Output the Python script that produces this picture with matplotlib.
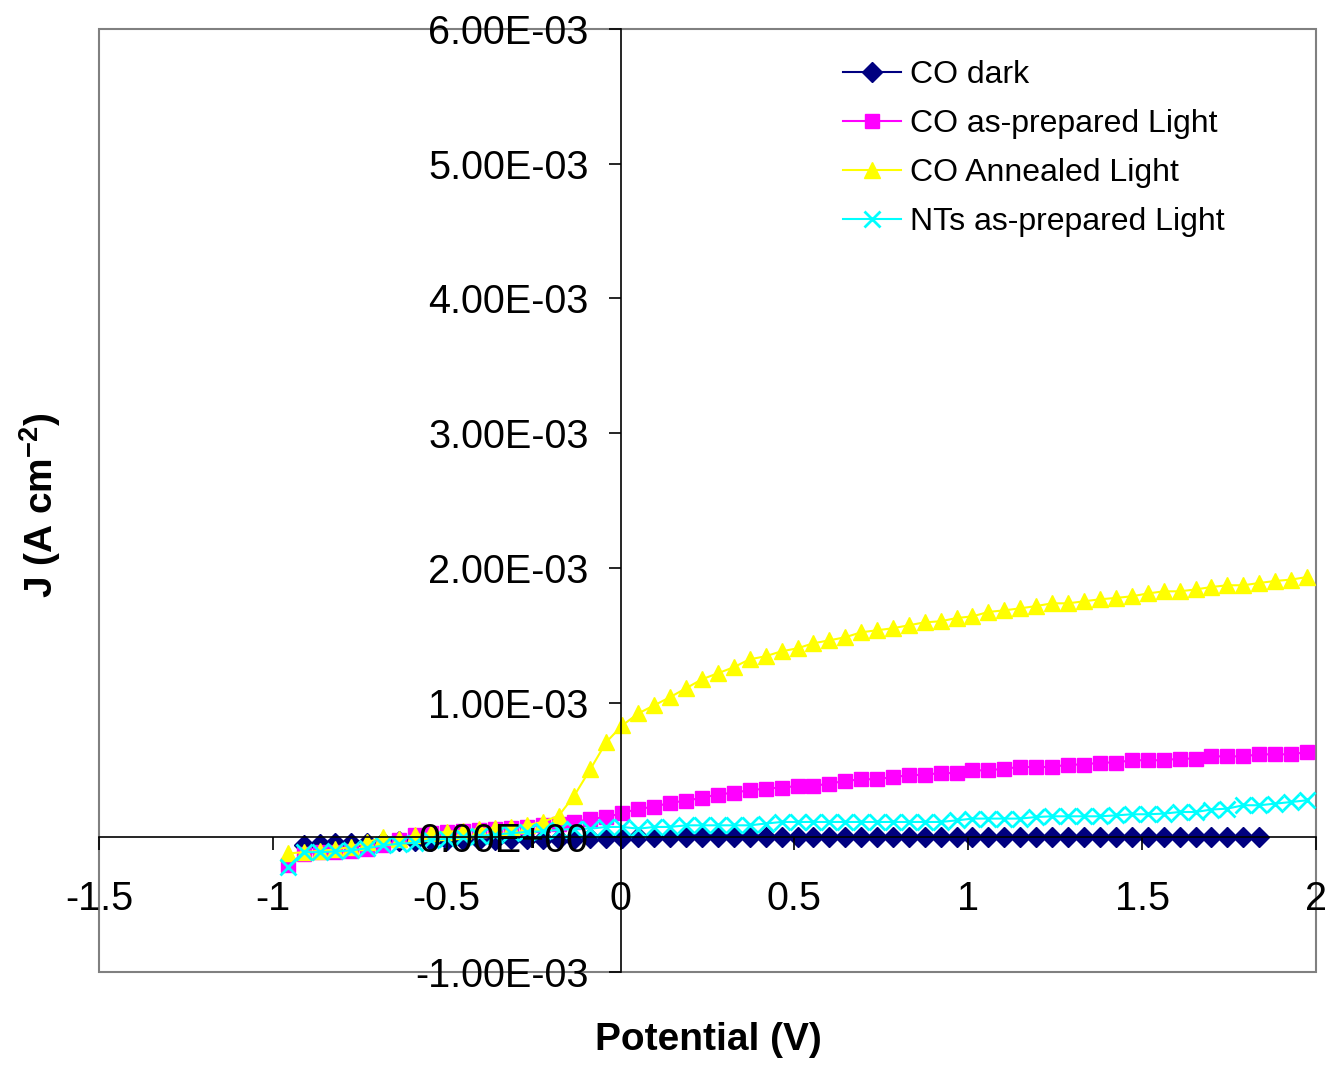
import matplotlib
matplotlib.use("Agg")
import matplotlib.pyplot as plt
from matplotlib.patches import Rectangle
from matplotlib.ticker import FuncFormatter, MultipleLocator

plt.rcParams['font.family'] = ['Liberation Sans', 'DejaVu Sans']
plt.rcParams['axes.unicode_minus'] = False
plt.rcParams['mathtext.fontset'] = 'custom'
plt.rcParams['mathtext.rm'] = 'Liberation Sans'
plt.rcParams['mathtext.bf'] = 'Liberation Sans:bold'

# potential (V)
pot = [-0.957, -0.911, -0.865, -0.820, -0.774, -0.728, -0.682, -0.636, -0.591, -0.545,
       -0.499, -0.453, -0.407, -0.362, -0.316, -0.270, -0.224, -0.178, -0.133, -0.087,
       -0.041, 0.005, 0.051, 0.097, 0.142, 0.188, 0.234, 0.280, 0.325, 0.371,
       0.417, 0.463, 0.509, 0.554, 0.600, 0.646, 0.692, 0.738, 0.783, 0.829,
       0.875, 0.921, 0.967, 1.012, 1.058, 1.104, 1.150, 1.196, 1.241, 1.287,
       1.333, 1.379, 1.425, 1.470, 1.516, 1.562, 1.608, 1.654, 1.699, 1.745,
       1.791, 1.837, 1.883, 1.928, 1.974]

# current density, in mA cm-2 (scaled to A cm-2 below)
co_dark = [-0.060, -0.047, -0.042, -0.042, -0.040, -0.035, -0.030, -0.030, -0.025,
           -0.020, -0.020, -0.020, -0.017, -0.015, -0.015, -0.012, -0.010, -0.010, -0.008,
           -0.006, -0.004, 0.000, 0.000, 0.001, 0.001, 0.001, 0.001, 0.001, 0.001,
           0.001, 0.001, 0.001, 0.001, 0.001, 0.001, 0.001, 0.001, 0.001, 0.001,
           0.001, 0.001, 0.001, 0.001, 0.002, 0.002, 0.002, 0.002, 0.002, 0.002,
           0.002, 0.002, 0.002, 0.002, 0.002, 0.002, 0.002, 0.002, 0.002, 0.002,
           0.002, 0.002]
co_prep = [-0.208, -0.121, -0.109, -0.109, -0.100, -0.090, -0.060, -0.022, 0.015, 0.030,
           0.040, 0.050, 0.055, 0.060, 0.070, 0.080, 0.090, 0.100, 0.114, 0.135,
           0.151, 0.178, 0.213, 0.225, 0.258, 0.270, 0.295, 0.317, 0.332, 0.349,
           0.362, 0.369, 0.381, 0.381, 0.399, 0.418, 0.431, 0.431, 0.448, 0.460,
           0.465, 0.477, 0.477, 0.497, 0.497, 0.510, 0.522, 0.522, 0.522, 0.540,
           0.540, 0.555, 0.555, 0.572, 0.572, 0.572, 0.584, 0.584, 0.601, 0.601,
           0.601, 0.616, 0.616, 0.616, 0.633]
co_ann = [-0.120, -0.110, -0.100, -0.090, -0.070, -0.035, 0.000, -0.010, 0.015, 0.030,
          0.040, 0.050, 0.060, 0.070, 0.080, 0.090, 0.114, 0.160, 0.310, 0.505,
          0.707, 0.831, 0.920, 0.980, 1.040, 1.106, 1.173, 1.218, 1.262, 1.321,
          1.344, 1.381, 1.403, 1.440, 1.462, 1.485, 1.522, 1.537, 1.552, 1.574,
          1.596, 1.604, 1.628, 1.640, 1.673, 1.685, 1.700, 1.717, 1.737, 1.737,
          1.752, 1.767, 1.777, 1.789, 1.810, 1.826, 1.826, 1.840, 1.858, 1.871,
          1.871, 1.888, 1.903, 1.913, 1.932]
nts_prep = [-0.220, -0.110, -0.110, -0.105, -0.097, -0.080, -0.060, -0.047, -0.040, -0.020,
            -0.010, 0.000, 0.010, 0.020, 0.030, 0.040, 0.045, 0.055, 0.064, 0.064,
            0.077, 0.077, 0.064, 0.077, 0.077, 0.089, 0.089, 0.089, 0.089, 0.089,
            0.102, 0.114, 0.114, 0.114, 0.114, 0.114, 0.114, 0.114, 0.114, 0.114,
            0.114, 0.114, 0.126, 0.139, 0.139, 0.139, 0.139, 0.151, 0.156, 0.156,
            0.156, 0.156, 0.163, 0.171, 0.171, 0.176, 0.188, 0.188, 0.206, 0.213,
            0.238, 0.238, 0.250, 0.262, 0.275]

fig = plt.figure(figsize=(13.36, 10.67), dpi=100)
ax = fig.add_axes([0.0741, 0.089, 0.9109, 0.8838])
ax.set_axisbelow(False)

def sc(v):
    return [a * 1e-3 for a in v]

ax.plot(pot[1:62], sc(co_dark), color='#000080', marker='D', markersize=10, lw=1.5,
        label='CO dark')
ax.plot(pot, sc(co_prep), color='#FF00FF', marker='s', markersize=10, lw=1.5,
        label='CO as-prepared Light')
ax.plot(pot, sc(co_ann), color='#FFFF00', marker='^', markersize=12, lw=1.5,
        label='CO Annealed Light')
ax.plot(pot, sc(nts_prep), color='#00FFFF', marker='x', markersize=11, mew=2, lw=1.5,
        label='NTs as-prepared Light')

ax.set_xlim(-1.5, 2)
ax.set_ylim(-1e-3, 6e-3)
ax.xaxis.set_major_locator(MultipleLocator(0.5))
ax.yaxis.set_major_locator(MultipleLocator(1e-3))
ax.xaxis.set_major_formatter(FuncFormatter(lambda v, p: '%g' % v))
ax.yaxis.set_major_formatter(FuncFormatter(lambda v, p: '%.2E' % v))

ax.spines['left'].set_position(('data', 0))
ax.spines['bottom'].set_position(('data', 0))
ax.spines['top'].set_visible(False)
ax.spines['right'].set_visible(False)
ax.spines['left'].set_linewidth(1.2)
ax.spines['bottom'].set_linewidth(1.2)
ax.add_patch(Rectangle((0, 0), 1, 1, transform=ax.transAxes, fill=False,
                       ec='#808080', lw=1.5, clip_on=False, zorder=0))

ax.tick_params(axis='y', direction='out', length=9, width=1.2, labelsize=28.5, pad=14)
ax.tick_params(axis='x', direction='out', length=9, width=1.2, labelsize=28.5, pad=22)

fig.text(0.53, 0.025, 'Potential (V)', ha='center', va='center', fontsize=28,
         fontweight='bold')
fig.text(0.03, 0.527, r'J (A cm$^{\mathbf{-2}}$)', ha='center', va='center',
         rotation=90, fontsize=28, fontweight='bold')

ax.legend(loc='upper left', bbox_to_anchor=(0.631, 0.944), bbox_transform=fig.transFigure,
          frameon=False, fontsize=23, numpoints=1, handlelength=1.8, handletextpad=0.3,
          labelspacing=0.6, borderpad=0, borderaxespad=0, markerscale=1.0)

fig.savefig('out.png', dpi=100)
